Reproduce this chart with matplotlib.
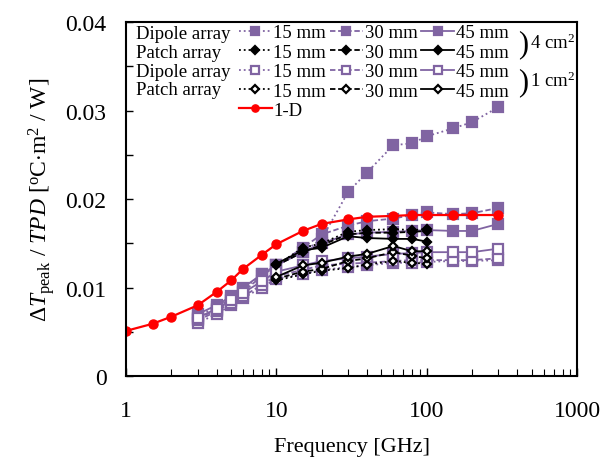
import matplotlib
matplotlib.use("Agg")
import matplotlib.pyplot as plt

plt.rcParams['font.family'] = ['Liberation Serif', 'DejaVu Serif']
plt.rcParams['mathtext.fontset'] = 'custom'
plt.rcParams['mathtext.rm'] = 'Liberation Serif'
plt.rcParams['mathtext.it'] = 'Liberation Serif:italic'

PURPLE = '#8064A2'

# 1-D model
f_1d = [1, 1.5, 2, 3, 4, 5, 6, 8, 10, 15, 20, 30, 40, 60, 80, 100, 150, 200, 300]
v_1d = [0.0051, 0.0059, 0.0067, 0.0080, 0.0095, 0.0108, 0.0121, 0.0137, 0.0149,
        0.0164, 0.0172, 0.0177, 0.0180, 0.0181, 0.0182, 0.0182, 0.0182, 0.0182, 0.0182]

# Dipole arrays
f_dip = [3, 4, 5, 6, 8, 10, 15, 20, 30, 40, 60, 80, 100, 150, 200, 300]
dip4_15 = [0.0068, 0.0078, 0.0088, 0.0098, 0.0115, 0.0125, 0.0140, 0.0155,
           0.0208, 0.0230, 0.0261, 0.0263, 0.0271, 0.0280, 0.0287, 0.0304]
dip4_30 = [0.0065, 0.0075, 0.0085, 0.0095, 0.0113, 0.0125, 0.0145, 0.0160,
           0.0170, 0.0175, 0.0178, 0.0182, 0.0185, 0.0183, 0.0184, 0.0190]
dip4_45 = [0.0070, 0.0080, 0.0090, 0.0100, 0.0115, 0.0125, 0.0140, 0.0150,
           0.0160, 0.0162, 0.0163, 0.0164, 0.0165, 0.0164, 0.0164, 0.0172]
dip1_15 = [0.0060, 0.0070, 0.0080, 0.0088, 0.0100, 0.0110, 0.0115, 0.0120,
           0.0123, 0.0125, 0.0128, 0.0128, 0.0129, 0.0130, 0.0130, 0.0131]
dip1_30 = [0.0063, 0.0073, 0.0083, 0.0090, 0.0103, 0.0113, 0.0120, 0.0125,
           0.0127, 0.0128, 0.0130, 0.0131, 0.0131, 0.0131, 0.0131, 0.0133]
dip1_45 = [0.0066, 0.0076, 0.0086, 0.0094, 0.0107, 0.0118, 0.0125, 0.0130,
           0.0133, 0.0135, 0.0138, 0.0139, 0.0140, 0.0140, 0.0140, 0.0144]

# Patch arrays
f_pat = [10, 15, 20, 30, 40, 60, 80, 100]
pat4_15 = [0.0125, 0.0145, 0.0150, 0.0163, 0.0165, 0.0166, 0.0165, 0.0166]
pat4_30 = [0.0125, 0.0140, 0.0148, 0.0160, 0.0162, 0.0162, 0.0163, 0.0164]
pat4_45 = [0.0127, 0.0142, 0.0145, 0.0158, 0.0156, 0.0155, 0.0155, 0.0152]
pat1_15 = [0.0108, 0.0115, 0.0119, 0.0122, 0.0126, 0.0130, 0.0128, 0.0127]
pat1_30 = [0.0110, 0.0118, 0.0121, 0.0130, 0.0133, 0.0140, 0.0136, 0.0133]
pat1_45 = [0.0112, 0.0125, 0.0128, 0.0135, 0.0138, 0.0147, 0.0141, 0.0141]

x_ticks = [1, 10, 100, 1000]
x_ticklabels = ['1', '10', '100', '1000']
y_ticks = [0, 0.01, 0.02, 0.03, 0.04]
y_ticklabels = ['0', '0.01', '0.02', '0.03', '0.04']

fig = plt.figure(figsize=(6.03, 4.64), dpi=100)
ax = fig.add_axes([0.209, 0.1875, 0.748, 0.7625])

lw = 1.3
styles = {15: ':', 30: (0, (3, 1.5)), 45: '-'}

def dip(vals, ls, filled):
    return ax.plot(f_dip, vals, linestyle=ls, color=PURPLE, lw=lw, marker='s', ms=6.5,
                   mfc=PURPLE if filled else 'white', mec=PURPLE, mew=1.6)[0]

def pat(vals, ls, filled):
    return ax.plot(f_pat, vals, linestyle=ls, color='black', lw=lw, marker='D', ms=4.5,
                   mfc='black' if filled else 'white', mec='black', mew=1.6)[0]

h_d4 = [dip(dip4_15, styles[15], True), dip(dip4_30, styles[30], True), dip(dip4_45, styles[45], True)]
h_d1 = [dip(dip1_15, styles[15], False), dip(dip1_30, styles[30], False), dip(dip1_45, styles[45], False)]
h_p4 = [pat(pat4_15, styles[15], True), pat(pat4_30, styles[30], True), pat(pat4_45, styles[45], True)]
h_p1 = [pat(pat1_15, styles[15], False), pat(pat1_30, styles[30], False), pat(pat1_45, styles[45], False)]
h_1d = ax.plot(f_1d, v_1d, '-', color='red', lw=1.6, marker='o', ms=6.5, mfc='red', mec='red')[0]

ax.set_xscale('log')
ax.set_xlim(1, 1000)
ax.set_ylim(0, 0.04)
ax.set_xticks(x_ticks)
ax.set_xticklabels(x_ticklabels)
ax.set_yticks(y_ticks)
ax.set_yticklabels(y_ticklabels)
ax.set_yticks([0.005, 0.015, 0.025, 0.035], minor=True)
ax.tick_params(axis='both', which='both', direction='in', labelsize=17, top=False, right=False)
ax.tick_params(axis='x', which='major', length=6, width=1, pad=17)
ax.tick_params(axis='x', which='minor', length=5, width=0.8)
ax.tick_params(axis='y', which='both', length=5, width=1, pad=14)
for s in ax.spines.values():
    s.set_linewidth(1.5)

ax.set_xlabel('Frequency [GHz]', fontsize=16, labelpad=12)
ax.set_ylabel(r'$\Delta \mathit{T}_{\rm peak}$ / $\mathit{TPD}$ [$^{\rm o}$C$\cdot$m$^{2}$ / W]',
              fontsize=17, labelpad=6)

# legend: columns 15 / 30 / 45 mm, rows dipole4, patch4, dipole1, patch1, then 1-D
handles = [h_d4[0], h_p4[0], h_d1[0], h_p1[0], h_1d,
           h_d4[1], h_p4[1], h_d1[1], h_p1[1],
           h_d4[2], h_p4[2], h_d1[2], h_p1[2]]
labels = ['15 mm'] * 4 + ['1-D'] + ['30 mm'] * 4 + ['45 mm'] * 4
leg = ax.legend(handles, labels, ncol=3, loc='upper left', bbox_to_anchor=(0.250, 0.994),
                frameon=False, fontsize=13.5, handlelength=1.75, handletextpad=0.1,
                columnspacing=0.2, labelspacing=0.12, borderpad=0.0, borderaxespad=0.0,
                markerscale=0.8)

row_y = [0.969, 0.915, 0.862, 0.809]
for y, t in zip(row_y, ['Dipole array', 'Patch array', 'Dipole array', 'Patch array']):
    ax.text(0.022, y, t, transform=ax.transAxes, fontsize=13.5, va='center', ha='left')
ax.text(0.870, 0.940, ')', transform=ax.transAxes, fontsize=22, va='center', ha='left')
ax.text(0.896, 0.942, r'4 cm$^{2}$', transform=ax.transAxes, fontsize=13.5, va='center', ha='left')
ax.text(0.870, 0.833, ')', transform=ax.transAxes, fontsize=22, va='center', ha='left')
ax.text(0.896, 0.835, r'1 cm$^{2}$', transform=ax.transAxes, fontsize=13.5, va='center', ha='left')

fig.savefig('out.png', dpi=100)
